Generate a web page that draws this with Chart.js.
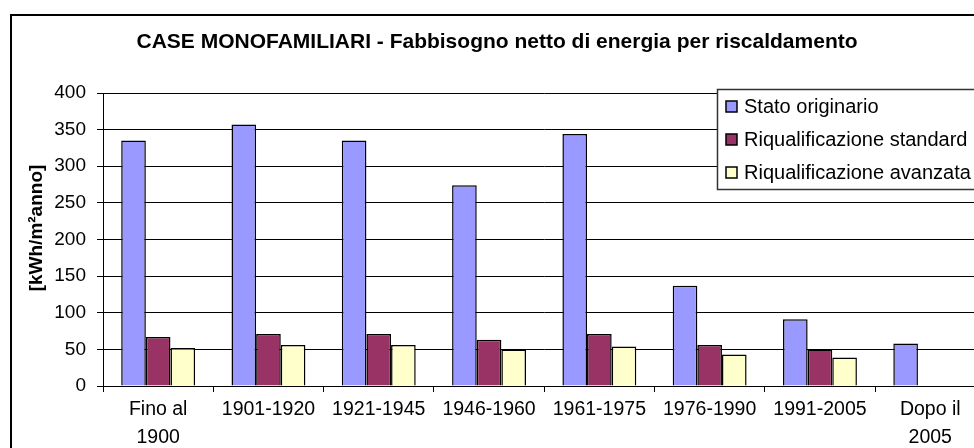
<!DOCTYPE html>
<html>
<head>
<meta charset="utf-8">
<script src="https://cdn.jsdelivr.net/npm/chart.js@4/dist/chart.umd.min.js"></script>
<style>
  html, body { margin: 0; padding: 0; background: #fff; overflow: hidden; }
  #wrap { width: 1000px; height: 448px; }
</style>
</head>
<body>
<div id="wrap"><canvas id="c" width="1000" height="448"></canvas></div>
<script>
// Periodi di costruzione
const categories = [["Fino al", "1900"], "1901-1920", "1921-1945", "1946-1960", "1961-1975", "1976-1990", "1991-2005", ["Dopo il", "2005"]];

// Fabbisogno netto [kWh/m²anno]
const statoOriginario = [335, 357, 335, 274, 344, 137, 91, 58];
const riqStandard = [67, 71, 71, 63, 71, 56, 50, null];
const riqAvanzata = [52, 56, 56, 50, 54, 43, 39, null];

const seriesNames = ["Stato originario", "Riqualificazione standard", "Riqualificazione avanzata"];
const yTicks = [0, 50, 100, 150, 200, 250, 300, 350, 400];

const chartTitle = "CASE MONOFAMILIARI - Fabbisogno netto di energia per riscaldamento";
const yTitle = "[kWh/m²anno]";

const FONT = "'Liberation Sans', Arial, sans-serif";

// Cornice, titolo, etichetta asse Y e legenda
const decor = {
  id: 'decor',
  beforeDraw(chart) {
    const ctx = chart.ctx;
    ctx.save();
    ctx.fillStyle = '#fff';
    ctx.fillRect(0, 0, chart.width, chart.height);
    ctx.restore();
  },
  afterDraw(chart) {
    const ctx = chart.ctx;
    ctx.save();
    // cornice esterna
    ctx.strokeStyle = '#000';
    ctx.lineWidth = 2;
    ctx.strokeRect(11, 15, chart.width + 20, chart.height + 20);

    // titolo
    ctx.fillStyle = '#000';
    ctx.font = "bold 21px " + FONT;
    ctx.textAlign = 'center';
    ctx.textBaseline = 'alphabetic';
    ctx.fillText(chartTitle, 497, 48);

    // titolo asse Y
    ctx.save();
    ctx.translate(42, 228);
    ctx.rotate(-Math.PI / 2);
    ctx.font = "bold 19px " + FONT;
    ctx.textAlign = 'center';
    ctx.fillText(yTitle, 0, 0);
    ctx.restore();

    // legenda
    const lx = 717.5, ly = 89.5, lw = 400, lh = 100;
    ctx.fillStyle = '#fff';
    ctx.fillRect(lx, ly, lw, lh);
    ctx.strokeStyle = '#333';
    ctx.lineWidth = 1.5;
    ctx.strokeRect(lx, ly, lw, lh);
    const rows = [106.5, 139.5, 172.5];
    chart.data.datasets.forEach((ds, i) => {
      const y = rows[i];
      ctx.fillStyle = ds.backgroundColor;
      ctx.fillRect(726, y - 5.5, 11, 11);
      ctx.strokeStyle = '#000';
      ctx.lineWidth = 1.5;
      ctx.strokeRect(726, y - 5.5, 11, 11);
      ctx.fillStyle = '#000';
      ctx.font = "20px " + FONT;
      ctx.textAlign = 'left';
      ctx.textBaseline = 'middle';
      ctx.fillText(ds.label, 744, y + 1);
    });
    ctx.restore();
  }
};

const ds = (label, data, color) => ({
  label, data,
  backgroundColor: color,
  borderColor: '#000',
  borderWidth: 1.5,
  categoryPercentage: 0.67,
  barPercentage: 1.0
});

new Chart(document.getElementById('c'), {
  type: 'bar',
  data: {
    labels: categories,
    datasets: [
      ds(seriesNames[0], statoOriginario, '#9999FF'),
      ds(seriesNames[1], riqStandard, '#993366'),
      ds(seriesNames[2], riqAvanzata, '#FFFFCC')
    ]
  },
  options: {
    responsive: false,
    animation: false,
    layout: { padding: { left: 10, top: 93, right: 14.6, bottom: 0 } },
    plugins: {
      legend: { display: false },
      title: { display: false },
      tooltip: { enabled: false }
    },
    scales: {
      x: {
        grid: { drawOnChartArea: false, color: '#000', tickLength: 6, offset: true },
        border: { color: '#000', width: 1 },
        ticks: { color: '#000', font: { family: FONT, size: 19.5, lineHeight: 1.42 }, padding: 4, maxRotation: 0, autoSkip: false },
        afterFit(scale) { scale.height = 62; }
      },
      y: {
        min: 0, max: 400,
        afterBuildTicks(scale) { scale.ticks = yTicks.map(v => ({ value: v })); },
        grid: { color: '#000', lineWidth: 1, tickLength: 6 },
        border: { color: '#000', width: 1 },
        ticks: { color: '#000', font: { family: FONT, size: 19 }, padding: 11 },
        afterFit(scale) { scale.width = 93; }
      }
    }
  },
  plugins: [decor]
});
</script>
</body>
</html>
